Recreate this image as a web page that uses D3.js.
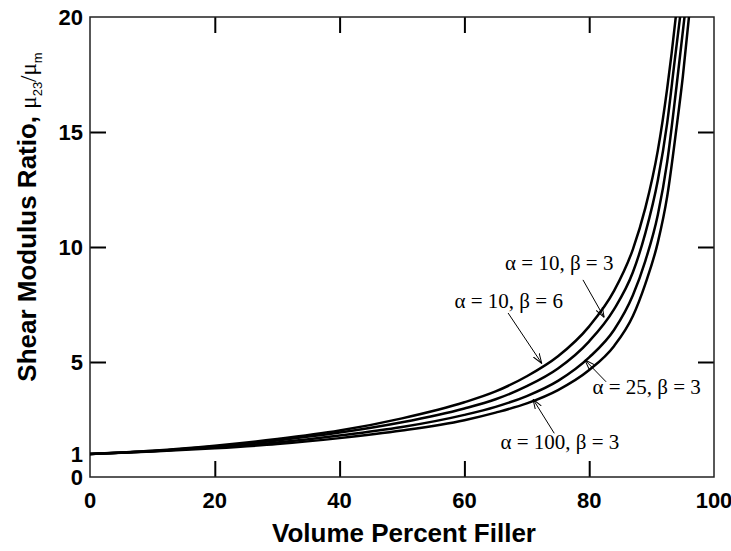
<!DOCTYPE html>
<html>
<head>
<meta charset="utf-8">
<script src="https://cdn.jsdelivr.net/npm/d3@7"></script>
<style>
  body { margin: 0; background: #fff; }
  .tick-label { font-family: "Liberation Sans", Arial, sans-serif; font-weight: bold; font-size: 22px; }
  .axis-title { font-family: "Liberation Sans", Arial, sans-serif; font-weight: bold; font-size: 26px; }
  .note { font-family: "Liberation Serif", "Times New Roman", serif; font-size: 21px; }
</style>
</head>
<body>
<svg id="chart" width="731" height="551"></svg>
<script>
// volume percent filler (x) and shear modulus ratio (y)
var xA = [0, 10, 20, 30, 40, 50, 60, 65, 70, 75, 80, 84, 87, 89, 91, 92.5, 93.2, 94];
var yA = [1, 1.14, 1.36, 1.65, 2.02, 2.55, 3.25, 3.72, 4.38, 5.25, 6.55, 8.1, 9.9, 11.7, 14.2, 16.9, 18.4, 20.3];

var xB = [0, 10, 20, 30, 40, 50, 60, 65, 70, 75, 80, 84, 87, 89, 91, 92.5, 93.7, 94.7];
var yB = [1, 1.13, 1.33, 1.59, 1.93, 2.38, 2.98, 3.38, 3.95, 4.72, 5.9, 7.3, 8.9, 10.6, 12.9, 15.4, 18.1, 20.3];

var xC = [0, 10, 20, 30, 40, 50, 60, 65, 70, 75, 80, 84, 87, 89, 91, 92.5, 94, 95.4];
var yC = [1, 1.12, 1.29, 1.5, 1.8, 2.17, 2.7, 3.05, 3.52, 4.18, 5.2, 6.4, 7.9, 9.4, 11.4, 13.7, 17.0, 20.3];

var xD = [0, 10, 20, 30, 40, 50, 60, 65, 70, 75, 80, 84, 87, 89, 91, 92.5, 94, 95, 96.1];
var yD = [1, 1.11, 1.25, 1.43, 1.69, 2.02, 2.47, 2.8, 3.2, 3.78, 4.65, 5.7, 7.0, 8.4, 10.2, 12.2, 15.2, 17.4, 20.3];

var seriesNames = ["\u03b1 = 10, \u03b2 = 6", "\u03b1 = 10, \u03b2 = 3", "\u03b1 = 25, \u03b2 = 3", "\u03b1 = 100, \u03b2 = 3"];

var xTicks = [0, 20, 40, 60, 80, 100];
var yTicks = [0, 1, 5, 10, 15, 20];
var yTickMarks = [5, 10, 15];
var xTickMarks = [20, 40, 60, 80];

// annotation: [label x, label y, arrow start x, start y, tip x, tip y] in data units
var noteA = [67.1, 7.35, 67.0, 7.13, 72.4, 4.94];
var noteB = [75.2, 9.0, 79.0, 8.57, 82.4, 6.94];
var noteC = [89.2, 3.61, 82.7, 4.14, 79.3, 5.09];
var noteD = [75.3, 1.22, 74.4, 1.9, 71.0, 3.38];

var margin = {top: 17, right: 17, bottom: 74, left: 90},
    width = 731 - margin.left - margin.right,
    height = 551 - margin.top - margin.bottom;

var svg = d3.select("#chart");
var g = svg.append("g").attr("transform", "translate(" + margin.left + "," + margin.top + ")");

var x = d3.scaleLinear().domain([0, 100]).range([0, width]);
var y = d3.scaleLinear().domain([0, 20]).range([height, 0]);

svg.append("defs").append("clipPath").attr("id", "plot-clip")
  .append("rect").attr("width", width).attr("height", height);

var defs = svg.select("defs");
defs.append("marker")
  .attr("id", "arrow")
  .attr("viewBox", "0 0 10 8")
  .attr("refX", 10).attr("refY", 4)
  .attr("markerWidth", 10).attr("markerHeight", 8)
  .attr("markerUnits", "userSpaceOnUse")
  .attr("orient", "auto")
  .append("path")
  .attr("d", "M0,0.5L10,4L0,7.5")
  .attr("fill", "none").attr("stroke", "#000").attr("stroke-width", 1);

// inward ticks on all four sides
var tickLen = 16;
var bottomAxis = d3.axisBottom(x).tickValues(xTickMarks).tickSize(-tickLen).tickFormat("");
var topAxis = d3.axisTop(x).tickValues(xTickMarks).tickSize(-tickLen).tickFormat("");
var leftAxis = d3.axisLeft(y).tickValues(yTickMarks).tickSize(-tickLen).tickFormat("");
var rightAxis = d3.axisRight(y).tickValues(yTickMarks).tickSize(-tickLen).tickFormat("");

g.append("g").attr("transform", "translate(0," + height + ")").call(bottomAxis);
g.append("g").call(topAxis);
g.append("g").call(leftAxis);
g.append("g").attr("transform", "translate(" + width + ",0)").call(rightAxis);
g.selectAll(".domain").remove();
g.selectAll(".tick line").attr("stroke", "#000").attr("stroke-width", 2);

g.append("rect")
  .attr("width", width).attr("height", height)
  .attr("fill", "none").attr("stroke", "#222").attr("stroke-width", 1.5);

// tick labels
g.selectAll(".xlab").data(xTicks).enter().append("text")
  .attr("class", "tick-label")
  .attr("x", function(d) { return x(d); })
  .attr("y", height + 31)
  .attr("text-anchor", "middle")
  .text(function(d) { return d; });

g.selectAll(".ylab").data(yTicks).enter().append("text")
  .attr("class", "tick-label")
  .attr("x", -7)
  .attr("y", function(d) { return y(d) + 8; })
  .attr("text-anchor", "end")
  .text(function(d) { return d; });

// curves
var curves = [d3.zip(xA, yA), d3.zip(xB, yB), d3.zip(xC, yC), d3.zip(xD, yD)];
var line = d3.line()
  .x(function(d) { return x(d[0]); })
  .y(function(d) { return y(d[1]); })
  .curve(d3.curveMonotoneX);

g.append("g").attr("clip-path", "url(#plot-clip)")
  .selectAll("path").data(curves).enter().append("path")
  .attr("d", line)
  .attr("fill", "none")
  .attr("stroke", "#000")
  .attr("stroke-width", 2.5);

// annotations
var notes = [noteA, noteB, noteC, noteD];
g.selectAll(".arrow").data(notes).enter().append("line")
  .attr("x1", function(d) { return x(d[2]); })
  .attr("y1", function(d) { return y(d[3]); })
  .attr("x2", function(d) { return x(d[4]); })
  .attr("y2", function(d) { return y(d[5]); })
  .attr("stroke", "#000").attr("stroke-width", 1)
  .attr("marker-end", "url(#arrow)");

g.selectAll(".note").data(notes).enter().append("text")
  .attr("class", "note")
  .attr("x", function(d) { return x(d[0]); })
  .attr("y", function(d) { return y(d[1]); })
  .attr("text-anchor", "middle")
  .text(function(d, i) { return seriesNames[i]; });

// axis titles
svg.append("text")
  .attr("class", "axis-title")
  .attr("x", margin.left + width / 2 + 2)
  .attr("y", 542)
  .attr("text-anchor", "middle")
  .text("Volume Percent Filler");

var yt = svg.append("text")
  .attr("class", "axis-title")
  .attr("font-size", 21.5)
  .attr("transform", "translate(36,217) rotate(-90)")
  .attr("text-anchor", "middle");
yt.append("tspan").text("Shear Modulus Ratio, ");
yt.append("tspan").attr("font-family", "Liberation Serif, serif").attr("font-weight", "normal").attr("font-size", 23).text("\u03bc");
yt.append("tspan").attr("font-weight", "normal").attr("font-size", 13).attr("dy", 6).text("23");
yt.append("tspan").attr("font-family", "Liberation Serif, serif").attr("font-weight", "normal").attr("font-size", 23).attr("dy", -6).text("/\u03bc");
yt.append("tspan").attr("font-weight", "normal").attr("font-size", 13).attr("dy", 6).text("m");
</script>
</body>
</html>
